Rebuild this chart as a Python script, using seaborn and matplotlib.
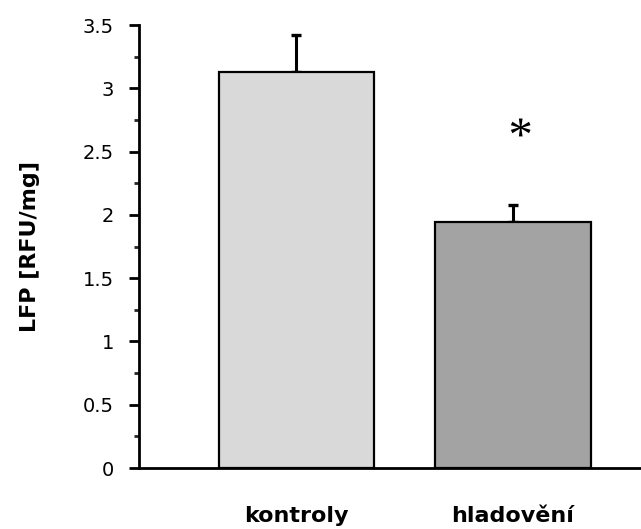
import matplotlib
matplotlib.use("Agg")
import matplotlib.pyplot as plt
from matplotlib.ticker import MultipleLocator, FuncFormatter
from matplotlib.textpath import TextPath
from matplotlib.font_manager import FontProperties
from matplotlib.path import Path
import seaborn as sns
import pandas as pd

# Group means and standard errors
groups = ["kontroly", "hladovění"]
lfp_mean = [3.13, 1.945]
lfp_sem = [0.295, 0.135]
bar_colors = ["#d9d9d9", "#a3a3a3"]
y_ticks = [0, 0.5, 1, 1.5, 2, 2.5, 3, 3.5]
significance = ["", "*"]
star_height = 2.64

sns.set_theme(style="white")
plt.rcParams["font.family"] = ["DejaVu Sans"]

df = pd.DataFrame({"group": groups, "lfp": lfp_mean})

fig = plt.figure(figsize=(6.41, 5.29), dpi=100)
ax = fig.add_axes([0.2168, 0.1153, 0.7832, 0.8374])

sns.barplot(data=df, x="group", y="lfp", hue="group", palette=bar_colors,
            order=groups, hue_order=groups, errorbar=None, width=0.716,
            edgecolor="black", linewidth=1.6, legend=False, ax=ax, zorder=2)

# Upper-only standard error bars
xs = list(range(len(groups)))
ax.errorbar(xs, lfp_mean, yerr=[[0] * len(groups), lfp_sem], fmt="none",
            ecolor="black", elinewidth=2.2, capsize=3.6, capthick=2.4, zorder=1)


def glyph_marker(ch):
    """Serif glyph outline, centred on its own bounding box."""
    tp = TextPath((0, 0), ch, size=1, prop=FontProperties(family="Liberation Serif"))
    v = tp.vertices.copy()
    v[:, 0] -= (v[:, 0].min() + v[:, 0].max()) / 2
    v[:, 1] -= (v[:, 1].min() + v[:, 1].max()) / 2
    return Path(v, tp.codes)


for x, mark in zip(xs, significance):
    if mark:
        ax.plot([x + 0.03], [star_height], marker=glyph_marker(mark),
                markersize=23, color="black", linestyle="none",
                markeredgewidth=0)

ax.set_xlim(-0.727, 1.591)
ax.set_ylim(0, 3.5)
ax.set_yticks(y_ticks)
ax.yaxis.set_major_formatter(FuncFormatter(lambda v, p: f"{v:g}"))
ax.yaxis.set_minor_locator(MultipleLocator(0.25))

for side in ["top", "right"]:
    ax.spines[side].set_visible(False)
for side in ["left", "bottom"]:
    ax.spines[side].set_linewidth(2.0)
    ax.spines[side].set_color("black")

ax.tick_params(axis="y", which="major", direction="out", length=7, width=2.0,
               left=True, labelsize=14, pad=11, colors="black")
ax.tick_params(axis="y", which="minor", direction="out", length=3.6, width=2.0,
               left=True)
ax.tick_params(axis="x", which="both", length=0, pad=27)
for lbl in ax.get_xticklabels():
    lbl.set_fontsize(16)
    lbl.set_fontweight("bold")
    lbl.set_color("black")

ax.set_xlabel("")
ax.set_ylabel("LFP [RFU/mg]", fontsize=16, fontweight="bold", labelpad=31,
              color="black")

fig.savefig("out.png", dpi=100)
